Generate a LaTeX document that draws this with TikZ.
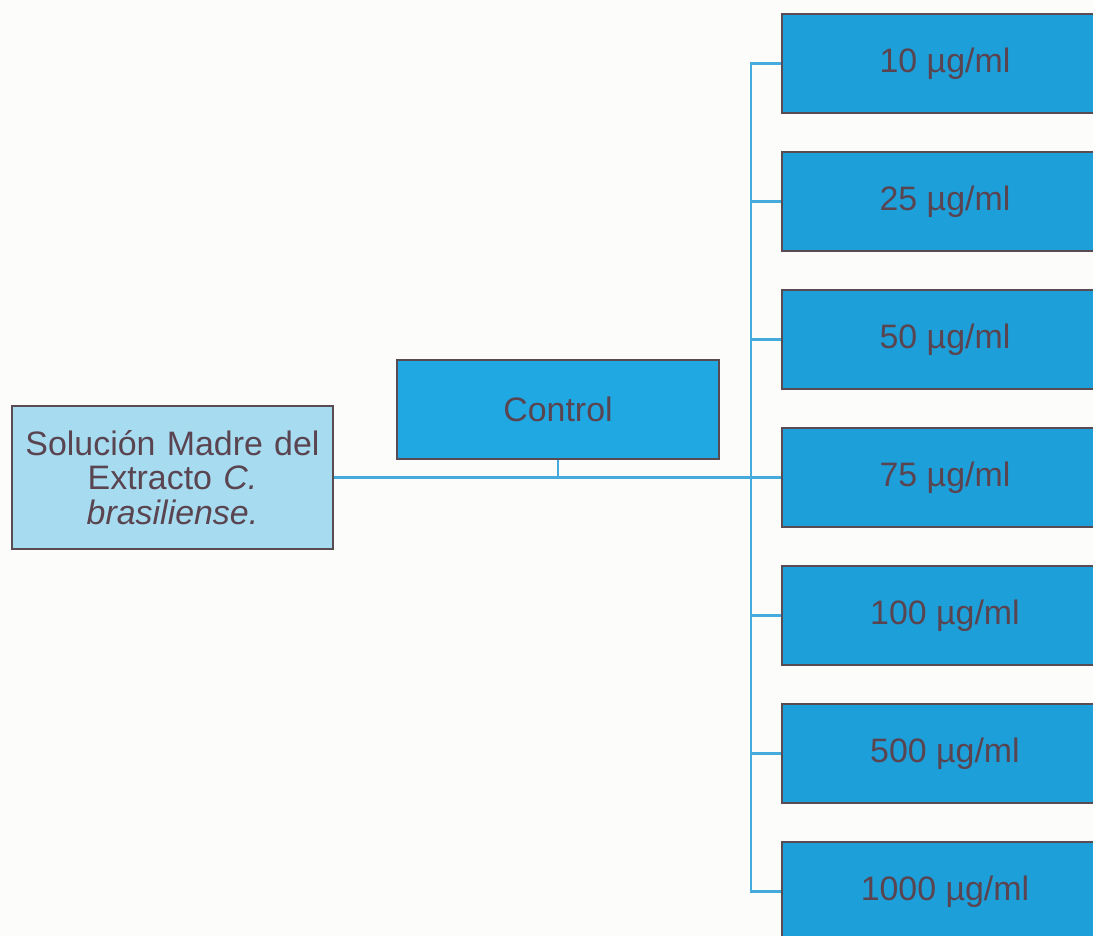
\documentclass[tikz,border=0pt]{standalone}
\usepackage{fontspec}
\setmainfont{Liberation Sans}
\definecolor{paleblue}{HTML}{A6DBF0}
\definecolor{ctrlblue}{HTML}{1FA8E2}
\definecolor{concblue}{HTML}{1D9FD9}
\definecolor{linkblue}{HTML}{45ABDC}
\definecolor{edgegray}{HTML}{5A4A52}
\definecolor{inkgray}{HTML}{5A4450}
\definecolor{paper}{HTML}{FCFCFA}
\usetikzlibrary{positioning}

\tikzset{
  box/.style={draw=edgegray, line width=1.5pt, text=inkgray, align=center,
    font=\fontsize{19.3}{19.8}\selectfont, inner sep=0pt},
  stockbox/.style={box, fill=paleblue, minimum width=6.42cm, minimum height=2.86cm, text width=6.2cm},
  ctrlbox/.style={box, fill=ctrlblue, minimum width=6.44cm, minimum height=1.98cm},
  concbox/.style={box, fill=concblue, minimum width=6.52cm, minimum height=1.98cm},
  link/.style={draw=linkblue, line width=1.3pt}
}

\begin{document}
\begin{tikzpicture}[x=0.02cm, y=-0.02cm]
  \useasboundingbox (0,0) rectangle (1093,936);
  \fill[paper] (0,0) rectangle (1093,936);
  \clip (0,0) rectangle (1093,936);

  % stock solution and control
  \node[stockbox] (stock) at (172.5,477.5) {Solución Madre del\\Extracto \textit{C.}\\\textit{brasiliense.}};
  \node[ctrlbox] (ctrl) at (558,409.5) {Control};

  % concentrations
  \foreach \conc/\ypos in {10/63.5, 25/201.5, 50/339.5, 75/477.5, 100/615.5, 500/753.5, 1000/891.5}
    \node[concbox] (c\conc) at (945,\ypos) {\conc{} µg/ml};

  % connectors
  \draw[link] (stock.east) -- (c75.west);
  \draw[link] (ctrl.south) -- (ctrl.south |- stock.east);
  \draw[link] (c10.west) -- ++(-30,0) |- (c1000.west);
  \foreach \conc in {25, 50, 100, 500}
    \draw[link] (c\conc.west) -- ++(-30,0);
\end{tikzpicture}
\end{document}
